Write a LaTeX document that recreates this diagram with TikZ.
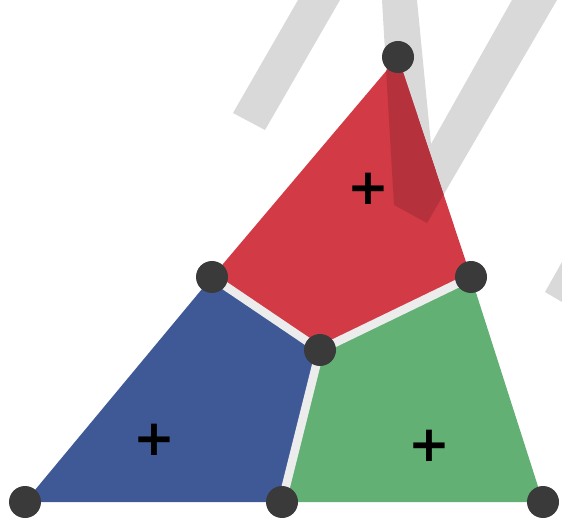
\documentclass[tikz,border=0pt]{standalone}
\usepackage{fontspec}
\newfontfamily\plusfont{DejaVu Sans}
\definecolor{wm}{HTML}{D9D9D9}
\definecolor{rblue}{HTML}{3F5896}
\definecolor{rgreen}{HTML}{62B073}
\definecolor{rred}{HTML}{D23A46}
\definecolor{rdark}{HTML}{B5313B}
\definecolor{gap}{HTML}{ECECEC}
\definecolor{dotc}{HTML}{3A3A3A}
\tikzset{
  dot/.style={circle, fill=dotc, minimum size=32pt, inner sep=0pt},
  plussign/.style={font=\plusfont\bfseries\fontsize{50}{50}\selectfont, text=black, inner sep=0pt},
  sep/.style={draw=gap, line width=8.5pt, line cap=round}
}
\begin{document}
\begin{tikzpicture}[x=1pt,y=-1pt]
\useasboundingbox (0,0) rectangle (562,526);
% watermark strokes
\fill[wm] (298,0) -- (340,0) -- (265,130) -- (233,113) -- cycle;
\fill[wm] (382,0) -- (394,205) -- (427,223) -- (557,0) -- (512,0) -- (431,144) -- (417,0) -- cycle;
\fill[wm] (562,262) -- (545,292) -- (562,302) -- cycle;
% coordinates
\coordinate (A) at (25,502);
\coordinate (B) at (282,502);
\coordinate (C) at (543,502);
\coordinate (D) at (398,57);
\coordinate (E) at (212,277);
\coordinate (F) at (471,277);
\coordinate (G) at (320,350);
% regions
\fill[rblue] (A) -- (E) -- (G) -- (B) -- cycle;
\fill[rgreen] (G) -- (F) -- (C) -- (B) -- cycle;
\fill[rred] (E) -- (D) -- (F) -- (G) -- cycle;
\begin{scope}
  \clip (E) -- (D) -- (F) -- (G) -- cycle;
  \fill[rdark] (382,0) -- (394,205) -- (427,223) -- (557,0) -- (512,0) -- (431,144) -- (417,0) -- cycle;
\end{scope}
% separators
\draw[sep] (E) -- (G) -- (F);
\draw[sep] (G) -- (B);
% dots
\node[dot] (nA) at (A) {};
\node[dot] (nB) at (B) {};
\node[dot] (nC) at (C) {};
\node[dot] (nD) at (D) {};
\node[dot] (nE) at (E) {};
\node[dot] (nF) at (F) {};
\node[dot] (nG) at (G) {};
% plus signs
\node[plussign] (p1) at (368,189) {+};
\node[plussign] (p2) at (154,440) {+};
\node[plussign] (p3) at (429,446) {+};
\end{tikzpicture}
\end{document}
